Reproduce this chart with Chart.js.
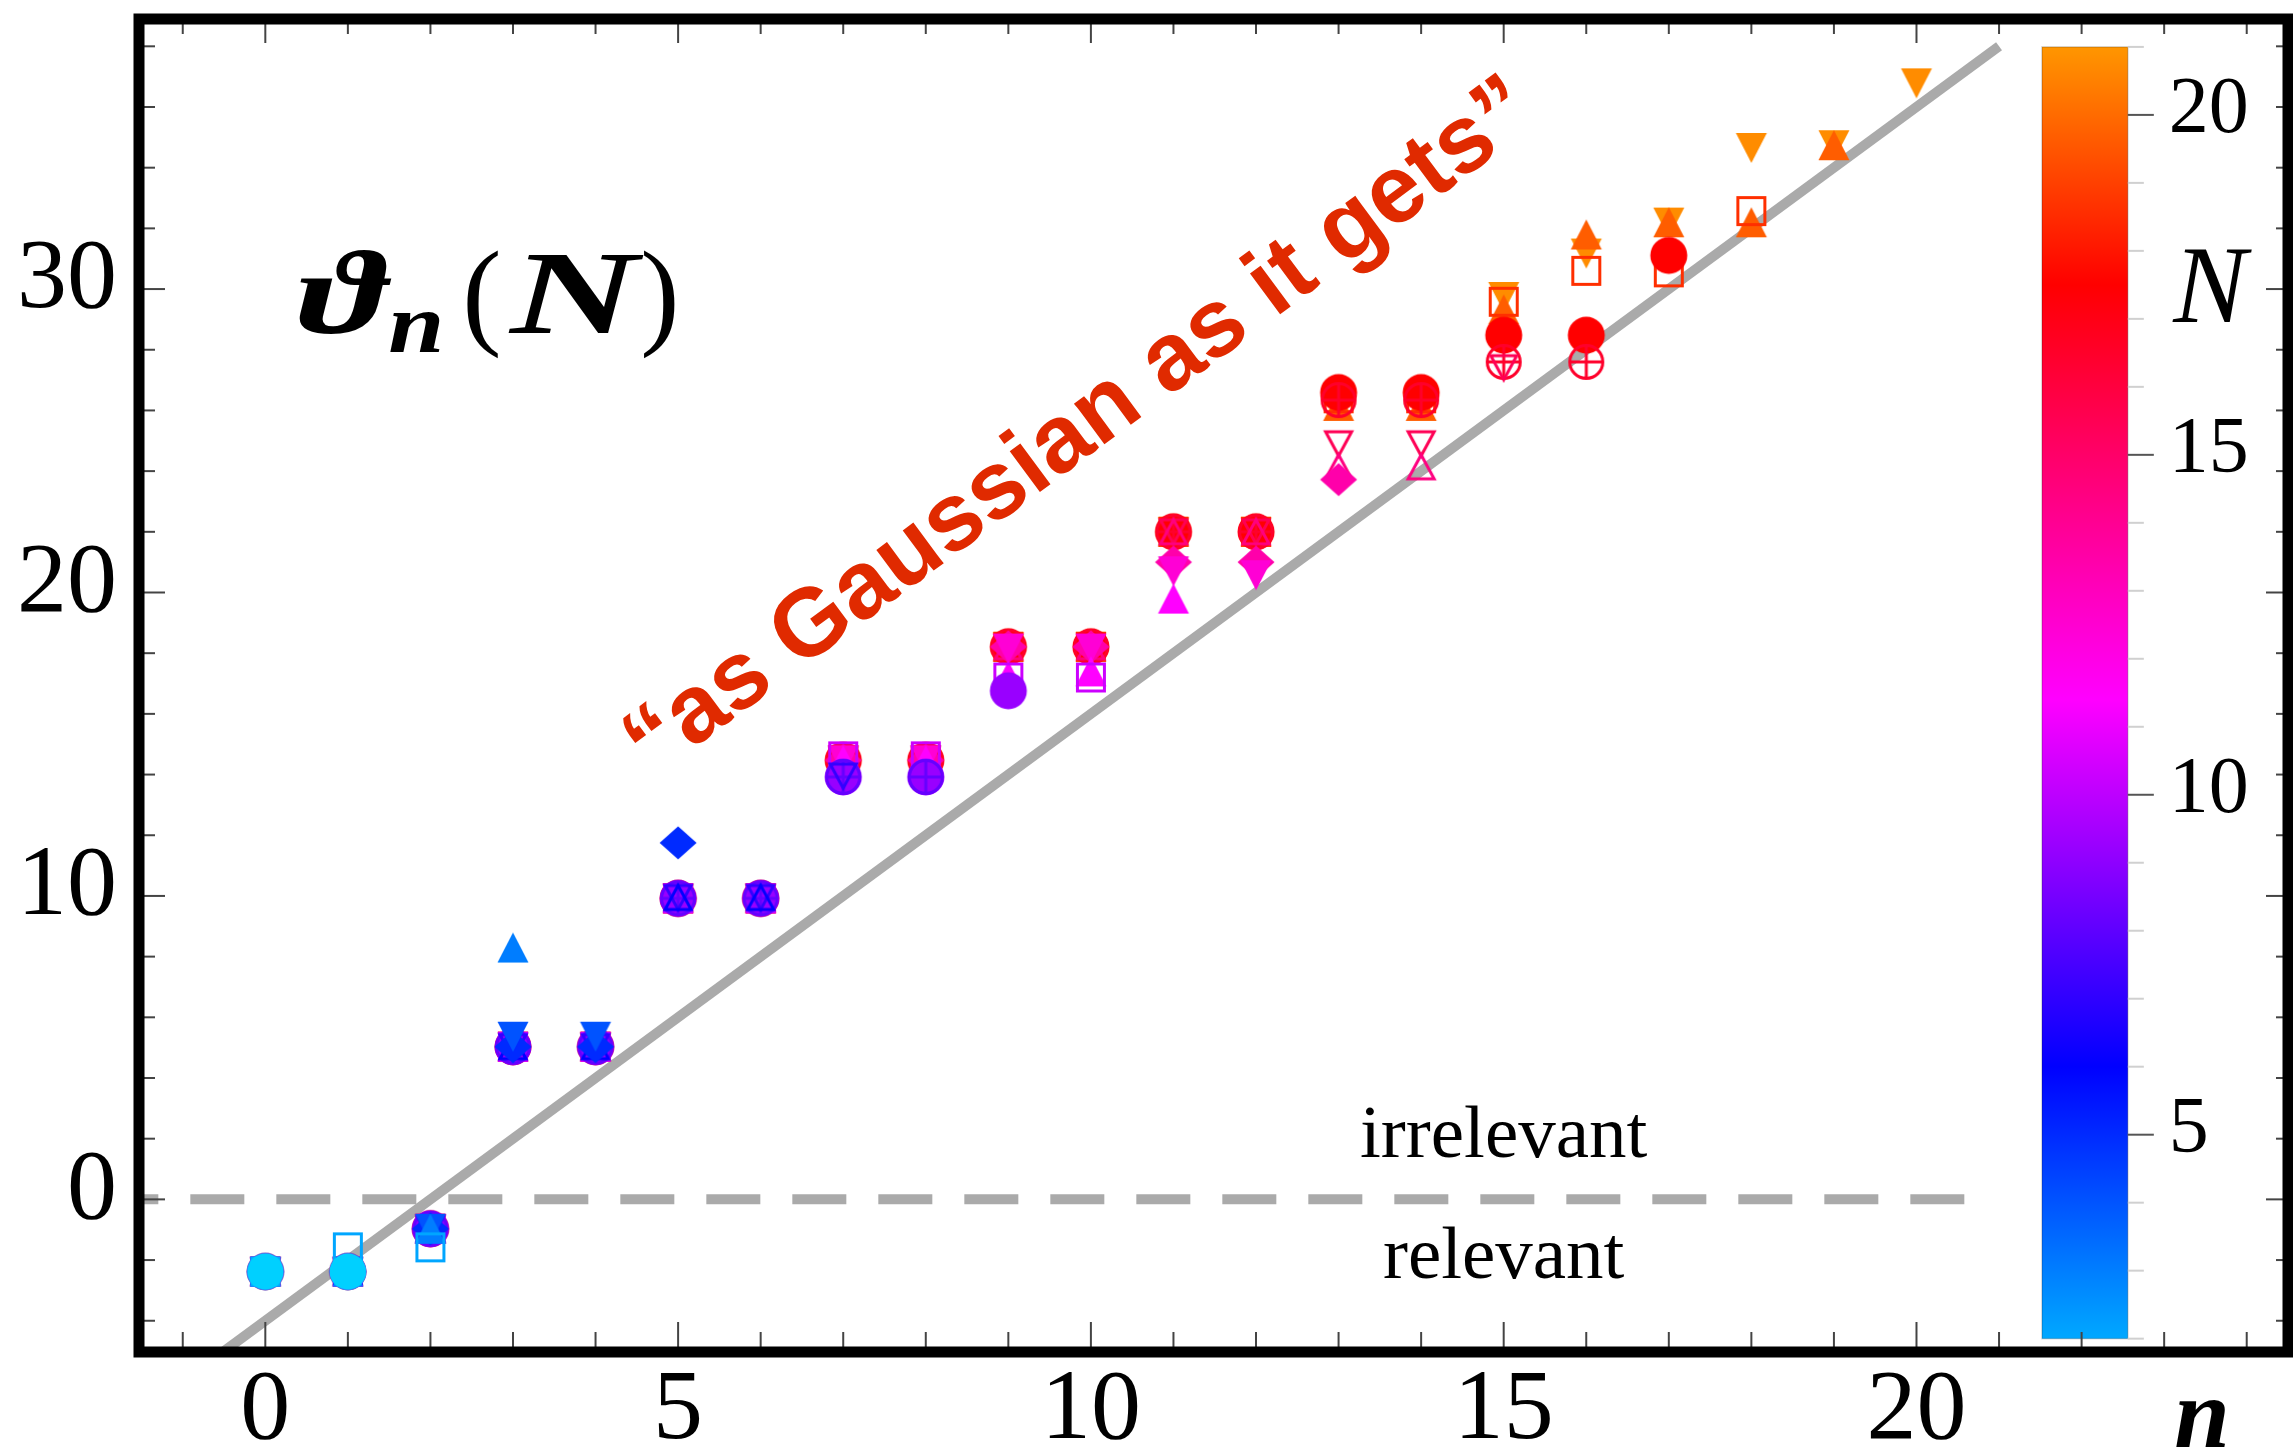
<!DOCTYPE html>
<html lang="en">
<head>
    <meta charset="UTF-8">
    <title>theta_n(N)</title>
    <style>
        html, body {
            margin: 0;
            padding: 0;
            background: #fff;
            overflow: hidden;
        }
        #wrap {
            width: 2293px;
            height: 1454px;
        }
        canvas {
            display: block;
        }
    </style>
    <script src="https://cdn.jsdelivr.net/npm/chart.js"></script>
</head>
<body>

<div id="wrap"><canvas id="chart" width="2293" height="1454"></canvas></div>

<script>
    // operator index n (x axis)
    const nIndex = [0, 1, 2, 3, 4, 5, 6, 7, 8, 9, 10, 11, 12, 13, 14, 15, 16, 17, 18, 19, 20];
    // one series per N
    const Nvalues = [2, 3, 4, 5, 6, 7, 8, 9, 10, 11, 12, 13, 14, 15, 16, 17, 18, 19, 20, 21];

    const theta2  = [-2.38, -2.38];
    const theta3  = [-2.38, -1.58, -1.58];
    const theta4  = [-2.38, -2.38, -0.97, 8.30];
    const theta5  = [-2.38, -2.38, -0.97, 5.36, 5.36];
    const theta6  = [-2.38, -2.38, -0.97, 5.03, 5.03, 11.75];
    const theta7  = [-2.38, -2.38, -0.97, 5.03, 5.03, 9.95, 9.95];
    const theta8  = [-2.38, -2.38, -0.97, 5.03, 5.03, 9.95, 9.95, 13.95];
    const theta9  = [-2.38, -2.38, -0.97, 5.03, 5.03, 9.92, 9.92, 13.92, 13.92];
    const theta10 = [-2.38, -2.38, -0.97, 5.03, 5.03, 9.92, 9.92, 13.92, 13.92, 16.76];
    const theta11 = [-2.38, -2.38, -0.97, 5.03, 5.03, 9.92, 9.92, 14.60, 14.60, 17.20, 17.20];
    const theta12 = [-2.38, -2.38, -0.97, 5.03, 5.03, 9.92, 9.92, 14.47, 14.47, 17.25, 17.40, 19.80];
    const theta13 = [-2.38, -2.38, -0.97, 5.03, 5.03, 9.92, 9.92, 14.47, 14.47, 18.15, 18.15, 20.70, 20.57];
    const theta14 = [-2.38, -2.38, -0.97, 5.03, 5.03, 9.92, 9.92, 14.47, 14.47, 18.21, 18.21, 21.00, 21.00, 23.72];
    const theta15 = [-2.38, -2.38, -0.97, 5.03, 5.03, 9.92, 9.92, 14.47, 14.47, 18.21, 18.21, 22.00, 22.00, 24.14, 24.14];
    const theta16 = [-2.38, -2.38, -0.97, 5.03, 5.03, 9.92, 9.92, 14.47, 14.47, 18.21, 18.21, 22.00, 22.00, 24.90, 24.90, 27.41];
    const theta17 = [-2.38, -2.38, -0.97, 5.03, 5.03, 9.92, 9.92, 14.47, 14.47, 18.21, 18.21, 22.00, 22.00, 26.34, 26.34, 27.60, 27.60];
    const theta18 = [-2.38, -2.38, -0.97, 5.03, 5.03, 9.92, 9.92, 14.47, 14.47, 18.21, 18.21, 22.00, 22.00, 26.59, 26.59, 28.48, 28.48, 31.11];
    const theta19 = [-2.38, -2.38, -0.97, 5.03, 5.03, 9.92, 9.92, 14.47, 14.47, 18.21, 18.21, 22.00, 22.00, 26.40, 26.40, 29.58, 30.60, 30.55, 32.57];
    const theta20 = [-2.38, -2.38, -0.97, 5.03, 5.03, 9.92, 9.92, 14.47, 14.47, 18.21, 18.21, 22.00, 22.00, 26.15, 26.15, 29.33, 31.80, 32.20, 32.20, 34.74];
    const theta21 = [-2.38, -2.38, -0.97, 5.03, 5.03, 9.92, 9.92, 14.47, 14.47, 18.21, 18.21, 22.00, 22.00, 26.35, 26.35, 29.74, 31.17, 32.19, 34.65, 34.74, 36.78];

    const thetaSeries = [theta2, theta3, theta4, theta5, theta6, theta7, theta8, theta9, theta10, theta11,
                         theta12, theta13, theta14, theta15, theta16, theta17, theta18, theta19, theta20, theta21];

    // reference lines
    const gaussX = [-1, 21];
    const gaussY = [-6, 38];
    const zeroX = [-1.95, 20.6];
    const zeroY = [0, 0];

    // axis / colorbar tick labels
    const xTickLabels = [0, 5, 10, 15, 20];
    const yTickLabels = [0, 10, 20, 30];
    const cbTickLabels = [5, 10, 15, 20];

    const shapeCycle = ['disk', 'square', 'up', 'down', 'diamond', 'upOpen', 'downOpen', 'circlePlus'];

    // colour of the markers as a function of N
    const markerStops = [[2, [0, 208, 255]], [7, [0, 0, 255]], [12, [255, 0, 255]], [18, [255, 0, 0]], [21, [255, 140, 0]]];
    // colour bar as drawn in the figure
    const barStops = [[2, [0, 168, 255]], [6, [0, 0, 255]], [11.4, [255, 0, 255]], [17.5, [255, 0, 0]], [21, [255, 150, 0]]];

    function colorAt(stops, N) {
        for (let i = 0; i < stops.length - 1; i++) {
            const [a, ca] = stops[i], [b, cb] = stops[i + 1];
            if (N <= b) {
                const t = Math.max(0, (N - a) / (b - a));
                const c = ca.map((v, k) => Math.round(v + (cb[k] - v) * t));
                return `rgb(${c[0]},${c[1]},${c[2]})`;
            }
        }
        const c = stops[stops.length - 1][1];
        return `rgb(${c[0]},${c[1]},${c[2]})`;
    }

    function makeMarker(shape, color) {
        const c = document.createElement('canvas');
        c.width = 44;
        c.height = 44;
        const g = c.getContext('2d');
        g.translate(22, 22);
        g.fillStyle = color;
        g.strokeStyle = color;
        g.lineWidth = 3;
        g.beginPath();
        switch (shape) {
            case 'disk':
                g.arc(0, 0, 18.5, 0, 2 * Math.PI);
                g.fill();
                break;
            case 'square':
                g.rect(-13.5, -13.5, 27, 27);
                g.stroke();
                break;
            case 'up':
                g.moveTo(0, -15); g.lineTo(15.5, 15); g.lineTo(-15.5, 15); g.closePath();
                g.fill();
                break;
            case 'down':
                g.moveTo(0, 15); g.lineTo(15.5, -15); g.lineTo(-15.5, -15); g.closePath();
                g.fill();
                break;
            case 'diamond':
                g.moveTo(0, -16.5); g.lineTo(18.5, 0); g.lineTo(0, 16.5); g.lineTo(-18.5, 0); g.closePath();
                g.fill();
                break;
            case 'upOpen':
                g.moveTo(0, -12); g.lineTo(13, 12); g.lineTo(-13, 12); g.closePath();
                g.stroke();
                break;
            case 'downOpen':
                g.moveTo(0, 12); g.lineTo(13, -12); g.lineTo(-13, -12); g.closePath();
                g.stroke();
                break;
            case 'circlePlus':
                g.arc(0, 0, 16.5, 0, 2 * Math.PI);
                g.moveTo(-16.5, 0); g.lineTo(16.5, 0);
                g.moveTo(0, -16.5); g.lineTo(0, 16.5);
                g.stroke();
                break;
        }
        return c;
    }

    const pointSets = Nvalues.map((N, i) => ({
        label: 'N = ' + N,
        data: thetaSeries[i].map((v, k) => ({x: nIndex[k], y: v})),
        pointStyle: makeMarker(shapeCycle[(N - 2) % shapeCycle.length], colorAt(markerStops, N)),
        pointRadius: 20,
        showLine: false
    }));

    const lineSets = [
        {
            label: 'gaussian',
            data: gaussX.map((v, i) => ({x: v, y: gaussY[i]})),
            showLine: true,
            borderColor: '#aaaaaa',
            borderWidth: 10,
            pointRadius: 0
        },
        {
            label: 'zero',
            data: zeroX.map((v, i) => ({x: v, y: zeroY[i]})),
            showLine: true,
            borderColor: '#aaaaaa',
            borderWidth: 10,
            borderDash: [54, 32],
            pointRadius: 0
        }
    ];

    // colour bar placement (data units of the main axes)
    const cbLeft = 21.52, cbRight = 22.56, cbBottomY = -4.59, cbTopY = 37.98, cbMin = 2, cbMax = 21;

    const colorBar = {
        id: 'colorBar',
        afterDatasetsDraw(chart) {
            const {ctx, scales: {x, y}} = chart;
            const l = x.getPixelForValue(cbLeft), r = x.getPixelForValue(cbRight);
            const b = y.getPixelForValue(cbBottomY), t = y.getPixelForValue(cbTopY);
            const yN = N => b + (t - b) * (N - cbMin) / (cbMax - cbMin);
            ctx.save();
            const grad = ctx.createLinearGradient(0, b, 0, t);
            barStops.forEach(([N]) => grad.addColorStop((N - cbMin) / (cbMax - cbMin), colorAt(barStops, N)));
            ctx.fillStyle = grad;
            ctx.fillRect(l, t, r - l, b - t);
            ctx.strokeStyle = 'rgba(0,0,0,0.18)';
            ctx.lineWidth = 1.5;
            ctx.strokeRect(l, t, r - l, b - t);
            for (let N = cbMin; N <= cbMax; N++) {
                const major = cbTickLabels.includes(N);
                ctx.strokeStyle = major ? '#555' : '#d0d0d0';
                ctx.lineWidth = 2;
                ctx.beginPath();
                ctx.moveTo(r, yN(N));
                ctx.lineTo(r + (major ? 26 : 16), yN(N));
                ctx.stroke();
            }
            ctx.fillStyle = '#000';
            ctx.font = '80px "Liberation Serif"';
            ctx.textAlign = 'left';
            ctx.textBaseline = 'middle';
            cbTickLabels.forEach(N => ctx.fillText(String(N), r + 41, yN(N) - 4));
            ctx.font = 'italic 110px "Liberation Serif"';
            ctx.textAlign = 'center';
            ctx.textBaseline = 'alphabetic';
            ctx.fillText('N', r + 82, y.getPixelForValue(28.9));
            ctx.restore();
        }
    };

    const frameTicks = {
        id: 'frameTicks',
        afterDatasetsDraw(chart) {
            const {ctx, chartArea: a, scales: {x, y}} = chart;
            const seg = (x1, y1, x2, y2) => { ctx.beginPath(); ctx.moveTo(x1, y1); ctx.lineTo(x2, y2); ctx.stroke(); };
            ctx.save();
            ctx.strokeStyle = '#444';
            ctx.lineWidth = 2;
            for (let v = -1; v <= 24; v++) {
                const px = x.getPixelForValue(v);
                const major = v % 5 === 0;
                seg(px, a.bottom, px, a.bottom - (major ? 30 : 20));
                seg(px, a.top, px, a.top + (major ? 24 : 15));
            }
            for (let v = -4; v <= 38; v += 2) {
                const py = y.getPixelForValue(v);
                const major = v % 10 === 0;
                seg(a.left, py, a.left + (major ? 26 : 16), py);
                seg(a.right, py, a.right - (major ? 22 : 12), py);
            }
            ctx.strokeStyle = '#000';
            ctx.lineWidth = 11;
            ctx.strokeRect(a.left, a.top, a.right - a.left, a.bottom - a.top);
            ctx.restore();
        }
    };

    const annotate = {
        id: 'annotate',
        afterDraw(chart) {
            const {ctx, scales: {x, y}} = chart;
            ctx.save();
            ctx.fillStyle = '#000';
            ctx.textAlign = 'left';
            ctx.textBaseline = 'alphabetic';

            // theta_n(N)
            const px = x.getPixelForValue(0.40), py = y.getPixelForValue(28.54);
            const glyph = (txt, font, dx, dy, sx) => {
                ctx.save();
                ctx.translate(px + dx, py + dy);
                ctx.scale(sx, 1);
                ctx.font = font;
                ctx.fillText(txt, 0, 0);
                ctx.restore();
            };
            glyph('ϑ', 'italic bold 118px "Liberation Serif", "DejaVu Serif"', 0, 0, 1.4);
            glyph('n', 'italic bold 84px "Liberation Serif"', 90, 19, 1.2);
            glyph('(', '118px "Liberation Serif"', 164, 0, 1);
            glyph('N', 'italic bold 118px "Liberation Serif"', 212, 0, 1.5);
            glyph(')', '118px "Liberation Serif"', 342, 0, 1);

            // x axis name
            ctx.font = 'italic bold 100px "Liberation Serif"';
            ctx.textAlign = 'center';
            ctx.fillText('n', x.getPixelForValue(23.46), y.getPixelForValue(-8.16));

            // regions
            ctx.font = '75px "Liberation Serif"';
            ctx.fillText('irrelevant', x.getPixelForValue(15), y.getPixelForValue(1.40));
            ctx.fillText('relevant', x.getPixelForValue(15), y.getPixelForValue(-2.60));

            // slogan
            ctx.translate(x.getPixelForValue(9.88), y.getPixelForValue(25.40));
            ctx.rotate(-36.5 * Math.PI / 180);
            ctx.font = 'bold 96px "Liberation Sans"';
            ctx.fillStyle = '#e02a00';
            ctx.textBaseline = 'middle';
            ctx.fillText('\u201Cas Gaussian as it gets\u201D', 0, 0);
            ctx.restore();
        }
    };

    new Chart(document.getElementById('chart'), {
        type: 'scatter',
        data: {datasets: pointSets.concat(lineSets)},
        options: {
            responsive: false,
            animation: false,
            devicePixelRatio: 1,
            events: [],
            layout: {autoPadding: false, padding: {top: 19, right: 5, bottom: 0, left: 0}},
            plugins: {
                legend: {display: false},
                tooltip: {enabled: false}
            },
            scales: {
                x: {
                    type: 'linear',
                    min: -1.53,
                    max: 24.5,
                    grid: {display: false, drawTicks: false},
                    border: {display: false},
                    afterBuildTicks: s => { s.ticks = xTickLabels.map(v => ({value: v})); },
                    afterFit: s => { s.height = 102; s.paddingLeft = 0; s.paddingRight = 0; },
                    ticks: {
                        color: '#000',
                        font: {family: 'Liberation Serif', size: 100},
                        padding: 0,
                        maxRotation: 0,
                        autoSkip: false
                    }
                },
                y: {
                    type: 'linear',
                    min: -5.03,
                    max: 38.9,
                    grid: {display: false, drawTicks: false},
                    border: {display: false},
                    afterBuildTicks: s => { s.ticks = yTickLabels.map(v => ({value: v})); },
                    afterFit: s => { s.width = 139; s.paddingTop = 0; s.paddingBottom = 0; },
                    ticks: {
                        color: '#000',
                        font: {family: 'Liberation Serif', size: 100},
                        padding: 22,
                        labelOffset: -8,
                        autoSkip: false
                    }
                }
            }
        },
        plugins: [colorBar, frameTicks, annotate]
    });
</script>

</body>
</html>
